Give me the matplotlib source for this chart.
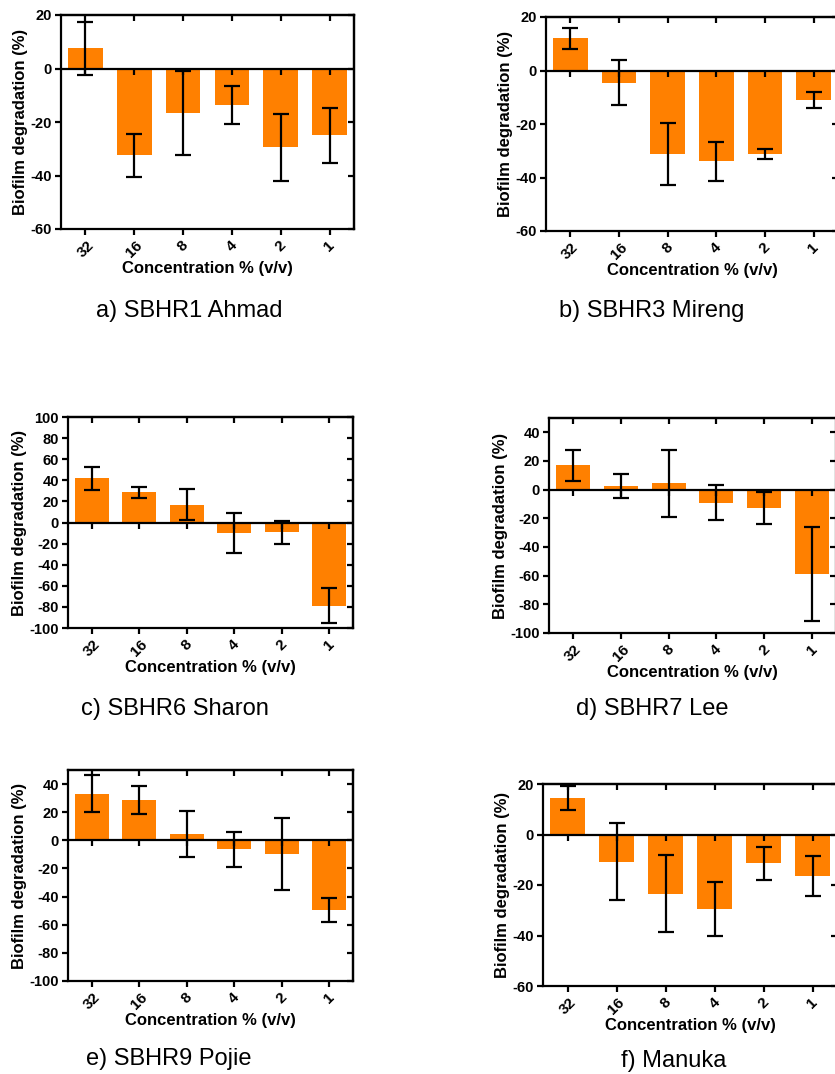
import matplotlib
matplotlib.use("Agg")
import matplotlib.pyplot as plt
import numpy as np

plt.rcParams['font.family'] = ['Liberation Sans', 'DejaVu Sans']
plt.rcParams['axes.unicode_minus'] = False

concentrations = ['32', '16', '8', '4', '2', '1']

captions = ['a) SBHR1 Ahmad', 'b) SBHR3 Mireng', 'c) SBHR6 Sharon',
            'd) SBHR7 Lee', 'e) SBHR9 Pojie', 'f) Manuka']

ahmad_mean = [7.5, -32.5, -16.5, -13.5, -29.5, -25.0]
ahmad_err = [10.0, 8.1, 15.7, 7.1, 12.5, 10.3]

mireng_mean = [12.0, -4.5, -31.3, -34.0, -31.2, -11.0]
mireng_err = [4.0, 8.3, 11.6, 7.4, 1.7, 3.0]

sharon_mean = [42.0, 28.5, 17.0, -10.0, -9.3, -79.0]
sharon_err = [11.0, 5.0, 14.5, 19.0, 10.7, 16.6]

lee_mean = [17.0, 2.7, 4.5, -9.2, -12.8, -58.5]
lee_err = [10.8, 8.3, 23.5, 12.3, 11.5, 32.8]

pojie_mean = [33.0, 28.5, 4.5, -6.5, -9.5, -49.5]
pojie_err = [13.1, 9.8, 16.5, 12.7, 25.7, 8.8]

manuka_mean = [14.4, -10.8, -23.5, -29.5, -11.4, -16.5]
manuka_err = [4.7, 15.3, 15.3, 10.5, 6.6, 8.0]

means = [ahmad_mean, mireng_mean, sharon_mean, lee_mean, pojie_mean, manuka_mean]
errs = [ahmad_err, mireng_err, sharon_err, lee_err, pojie_err, manuka_err]

ylims = [(-60, 20), (-60, 20), (-100, 100), (-100, 50), (-100, 50), (-60, 20)]
yticks = [np.arange(-60, 21, 20), np.arange(-60, 21, 20), np.arange(-100, 101, 20),
          np.arange(-100, 41, 20), np.arange(-100, 41, 20), np.arange(-60, 21, 20)]

W, H = 835, 1074
fig = plt.figure(figsize=(W / 100, H / 100), dpi=100)

# axes rects in pixels: left, top, right, bottom
rects = [(61, 15, 354, 229), (546, 17, 838, 231),
         (68, 417, 353, 628), (549, 418, 836, 633),
         (68, 770, 353, 981), (543, 784, 837, 986)]
cap_pos = [(189, 311), (652, 311), (175, 709), (652, 709), (169, 1059), (674, 1061)]

bar_color = '#FF8000'
lw = 1.6

for i in range(6):
    l, t, r, b = rects[i]
    ax = fig.add_axes([l / W, 1 - b / H, (r - l) / W, (b - t) / H])
    x = np.arange(len(concentrations))
    ax.bar(x, means[i], width=0.71, color=bar_color, zorder=2)
    ax.errorbar(x, means[i], yerr=errs[i], fmt='none', ecolor='black',
                elinewidth=1.6, capsize=6, capthick=1.6, zorder=4)
    ax.axhline(0, color='black', lw=lw, zorder=5)
    # downward ticks on the zero line
    ax.plot(x, np.zeros(len(x)), linestyle='none', marker=3, markersize=4.5,
            markeredgewidth=lw, color='black', zorder=6, clip_on=False)
    ymin, ymax = ylims[i]
    ax.set_ylim(ymin, ymax)
    ax.set_xlim(-0.5, 5.5)
    ax.set_yticks(yticks[i])
    ax.set_xticks(x)
    ax.set_xticklabels(concentrations, rotation=45, fontweight='bold', fontsize=11)
    for lab in ax.get_yticklabels():
        lab.set_fontweight('bold')
        lab.set_fontsize(10.5)
    ax.tick_params(axis='both', direction='out', length=4.5, width=lw, pad=2)
    for s in ax.spines.values():
        s.set_linewidth(lw)
    ax.set_ylabel('Biofilm degradation (%)', fontweight='bold', fontsize=12, labelpad=2)
    ax.set_xlabel('Concentration % (v/v)', fontweight='bold', fontsize=12, labelpad=1)

    # inward ticks on top and right spines
    top = ax.secondary_xaxis('top')
    top.set_xticks(x)
    top.set_xticklabels([])
    top.tick_params(direction='in', length=4.5, width=lw, labeltop=False)
    top.spines['top'].set_linewidth(lw)
    right = ax.secondary_yaxis('right')
    right.set_yticks(yticks[i])
    right.set_yticklabels([])
    right.tick_params(direction='in', length=4.5, width=lw, labelright=False)
    right.spines['right'].set_linewidth(lw)

    cx, cy = cap_pos[i]
    fig.text(cx / W, 1 - cy / H, captions[i], ha='center', va='center', fontsize=17)

fig.savefig('out.png', dpi=100)
